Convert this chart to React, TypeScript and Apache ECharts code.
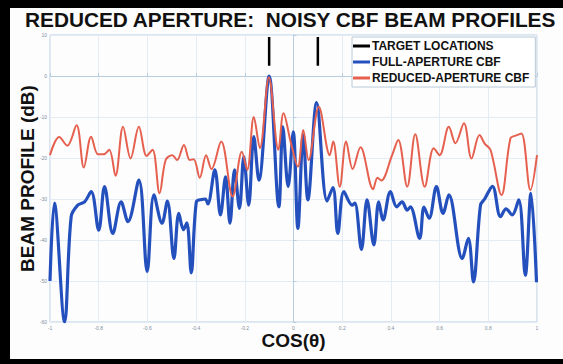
import React, { useEffect, useRef } from "react";
import * as echarts from "echarts";

const titleText = "REDUCED APERTURE:  NOISY CBF BEAM PROFILES";
const xLabel = "COS(θ)";
const yLabel = "BEAM PROFILE (dB)";
const seriesNames = ["TARGET LOCATIONS", "FULL-APERTURE CBF", "REDUCED-APERTURE CBF"];

const targetX = [-0.1, 0.1];
const targetTop = 9.5;
const targetBottom = 2.5;

const fullAperture: [number, number][] = [
  [-1.0, -50], [-0.982, -31], [-0.94, -60], [-0.913, -34.3], [-0.886, -31.5],
  [-0.858, -30.7], [-0.831, -28.2], [-0.8, -37.6], [-0.776, -27], [-0.742, -38.4],
  [-0.708, -30.7], [-0.68, -35.5], [-0.635, -25.4], [-0.601, -47.7], [-0.573, -29],
  [-0.54, -35.9], [-0.518, -30.5], [-0.491, -44.5], [-0.471, -33.5], [-0.452, -37.5],
  [-0.438, -35.8], [-0.42, -48], [-0.399, -30.7], [-0.378, -30.1], [-0.362, -30],
  [-0.352, -31.2], [-0.323, -22.9], [-0.3, -33.9], [-0.279, -24.6], [-0.261, -35.9],
  [-0.242, -22.9], [-0.222, -32.3], [-0.204, -19.7], [-0.184, -31.5], [-0.163, -14.8],
  [-0.142, -25.4], [-0.1, 0], [-0.06, -31.9], [-0.044, -12.4], [-0.022, -27],
  [-0.001, -13.6], [0.018, -37.2], [0.04, -14.4], [0.059, -30.2], [0.095, -6.5],
  [0.138, -30.5], [0.162, -27.2], [0.182, -38.4], [0.207, -28.2], [0.241, -31.5],
  [0.252, -31], [0.279, -42.3], [0.302, -30.2], [0.33, -41.2], [0.35, -30.7],
  [0.368, -35.1], [0.398, -28.2], [0.424, -31.9], [0.446, -30.7], [0.467, -32.7],
  [0.48, -31.9], [0.518, -39.6], [0.536, -32], [0.557, -34.7], [0.587, -27],
  [0.614, -33.5], [0.638, -29], [0.693, -44.5], [0.718, -39.6], [0.739, -50.2],
  [0.768, -31.5], [0.785, -30], [0.817, -26.9], [0.85, -34.3], [0.873, -32.4],
  [0.898, -33.9], [0.925, -30.2], [0.952, -48.6], [0.975, -28.6], [0.998, -50.3],
];

const reducedAperture: [number, number][] = [
  [-1.0, -19.3], [-0.962, -14.9], [-0.929, -17], [-0.891, -12], [-0.861, -22.3],
  [-0.831, -14.8], [-0.803, -19.1], [-0.78, -19.1], [-0.757, -18], [-0.731, -24.3],
  [-0.7, -12.4], [-0.669, -20.1], [-0.635, -12.4], [-0.603, -19.5], [-0.579, -18],
  [-0.55, -28.6], [-0.525, -20.5], [-0.498, -19.3], [-0.478, -20.5], [-0.45, -16.8],
  [-0.426, -20.5], [-0.41, -20.3], [-0.385, -24.8], [-0.359, -19.3], [-0.337, -22.7],
  [-0.297, -16], [-0.25, -29.4], [-0.212, -18.5], [-0.19, -22.9], [-0.163, -10],
  [-0.138, -17.6], [-0.101, -0.3], [-0.062, -18], [-0.041, -9.1], [-0.01, -16.5],
  [0.018, -22.1], [0.04, -13.2], [0.062, -20.5], [0.104, -7.5], [0.149, -19.3],
  [0.163, -16], [0.19, -27], [0.216, -16], [0.243, -22.7], [0.275, -17.4],
  [0.327, -27.6], [0.345, -24.8], [0.36, -25.5], [0.405, -19.3], [0.43, -15.6],
  [0.467, -27], [0.5, -14.2], [0.539, -27], [0.576, -17.6], [0.6, -19.3],
  [0.638, -12.4], [0.665, -16.4], [0.7, -11.5], [0.731, -20.1], [0.764, -14.4],
  [0.785, -16.5], [0.809, -18], [0.854, -29], [0.891, -15.2], [0.915, -14.5],
  [0.936, -14], [0.973, -27.8], [1.0, -19.3],
];

const xTicks = { min: -1, max: 1, interval: 0.2 };
const yTicks = { min: -60, max: 10, interval: 10 };

export default function App() {
  const ref = useRef<HTMLDivElement>(null);
  useEffect(() => {
    if (!ref.current) return;
    const chart = echarts.init(ref.current, null, { renderer: "svg" });
    const font = "'Liberation Sans', Arial, sans-serif";
    const targetSeries = targetX.map((x) => ({
      name: seriesNames[0],
      type: "line",
      data: [[x, targetTop], [x, targetBottom]],
      symbol: "none",
      lineStyle: { color: "#000", width: 2.5 },
      itemStyle: { color: "#000" },
      z: 5,
    }));
    chart.setOption({
      animation: false,
      backgroundColor: "#fdfdfd",
      textStyle: { fontFamily: font },
      title: {
        text: titleText,
        left: 20,
        top: 4,
        textStyle: { fontSize: 20.8, fontWeight: "bold", color: "#111", fontFamily: font },
      },
      legend: {
        data: seriesNames.map((n) => ({ name: n, icon: "rect" })),
        orient: "vertical",
        left: 352,
        top: 37,
        itemWidth: 17,
        itemHeight: 3,
        itemGap: 4,
        padding: [3, 6, 3, 1],
        borderColor: "#b9c9d8",
        borderWidth: 1,
        backgroundColor: "#fff",
        textStyle: { fontSize: 12, fontWeight: "bold", color: "#111", padding: [0, 0, 0, -3] },
      },
      grid: {
        left: 50,
        right: 26,
        top: 35,
        bottom: 42,
        show: true,
        borderColor: "#b7cde0",
        borderWidth: 1,
      },
      xAxis: {
        type: "value",
        min: xTicks.min,
        max: xTicks.max,
        interval: xTicks.interval,
        name: xLabel,
        nameLocation: "middle",
        nameGap: 9,
        nameMoveOverlap: false,
        nameTextStyle: { fontSize: 19, fontWeight: "bold", color: "#111", verticalAlign: "top" },
        axisLine: { lineStyle: { color: "#b7cde0" } },
        axisTick: { inside: true, length: 3, lineStyle: { color: "#b7cde0" } },
        axisLabel: { fontSize: 5, color: "#8090a0", margin: 3, showMinLabel: true, showMaxLabel: true },
        splitLine: { lineStyle: { color: "#e3ecf4" } },
      },
      yAxis: {
        type: "value",
        min: yTicks.min,
        max: yTicks.max,
        interval: yTicks.interval,
        name: yLabel,
        nameLocation: "middle",
        nameGap: 13,
        nameMoveOverlap: false,
        nameTextStyle: { fontSize: 19, fontWeight: "bold", color: "#111" },
        axisLine: { lineStyle: { color: "#b7cde0" } },
        axisTick: { inside: true, length: 3, lineStyle: { color: "#b7cde0" } },
        axisLabel: { fontSize: 5, color: "#8090a0", margin: 3, showMinLabel: true, showMaxLabel: true },
        splitLine: { lineStyle: { color: "#e3ecf4" } },
      },
      series: [
        ...targetSeries,
        {
          name: seriesNames[1],
          type: "line",
          data: fullAperture,
          symbol: "none",
          smooth: 0.35,
          lineStyle: { color: "#2450bd", width: 3.2 },
          itemStyle: { color: "#2450bd" },
          z: 3,
        },
        {
          name: seriesNames[2],
          type: "line",
          data: reducedAperture,
          symbol: "none",
          smooth: 0.35,
          lineStyle: { color: "#e5604e", width: 2 },
          itemStyle: { color: "#e5604e" },
          z: 4,
        },
      ],
      graphic: [
        { type: "rect", left: 0, top: 0, shape: { width: 563, height: 8 }, style: { fill: "#000" }, z: 100 },
        { type: "rect", left: 0, top: 0, shape: { width: 10, height: 364 }, style: { fill: "#000" }, z: 100 },
        { type: "rect", left: 0, top: 359, shape: { width: 563, height: 5 }, style: { fill: "#000" }, z: 100 },
      ],
    });
    return () => chart.dispose();
  }, []);
  return (
    <div
      ref={ref}
      style={{ position: "fixed", left: 0, top: 0, width: 563, height: 364 }}
    />
  );
}
